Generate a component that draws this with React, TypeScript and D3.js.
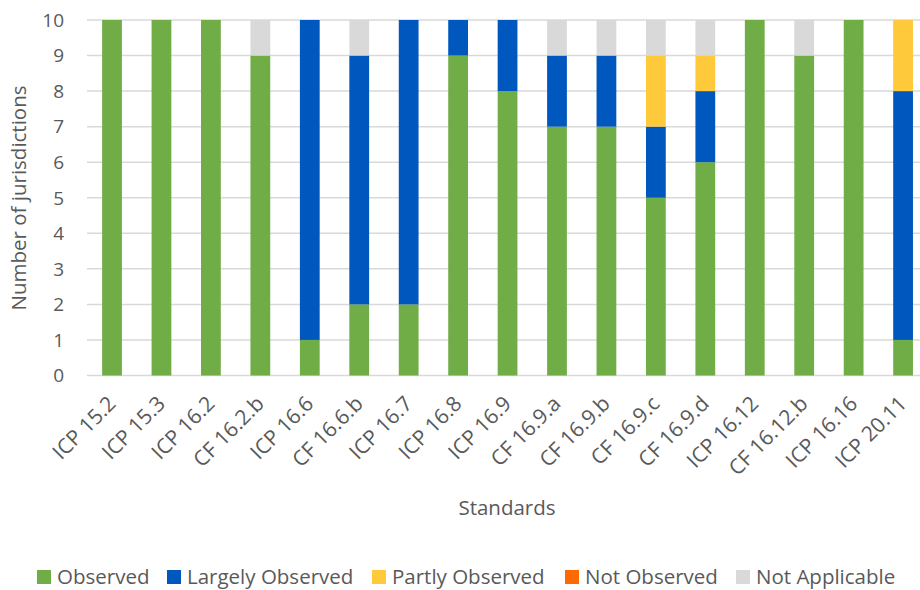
import React from "react";
import * as d3 from "d3";

const categories = ["ICP 15.2","ICP 15.3","ICP 16.2","CF 16.2.b","ICP 16.6","CF 16.6.b","ICP 16.7","ICP 16.8","ICP 16.9","CF 16.9.a","CF 16.9.b","CF 16.9.c","CF 16.9.d","ICP 16.12","CF 16.12.b","ICP 16.16","ICP 20.11"];
const observed =        [10,10,10,9,1,2,2,9,8,7,7,5,6,10,9,10,1];
const largelyObserved = [0,0,0,0,9,7,8,1,2,2,2,2,2,0,0,0,7];
const partlyObserved =  [0,0,0,0,0,0,0,0,0,0,0,2,1,0,0,0,2];
const notObserved =     [0,0,0,0,0,0,0,0,0,0,0,0,0,0,0,0,0];
const notApplicable =   [0,0,0,1,0,1,0,0,0,1,1,1,1,0,1,0,0];
const seriesNames = ["Observed","Largely Observed","Partly Observed","Not Observed","Not Applicable"];
const seriesColors = ["#70AD47","#0058BE","#FFC93C","#FF6A00","#D9D9D9"];
const yTicks = [0,1,2,3,4,5,6,7,8,9,10];

const W = 920, H = 590;
const FONT = "'Open Sans', sans-serif";
const TXT = "#595959";

export default function App() {
  const x = d3.scaleBand<string>().domain(categories).range([87.3, 927.8]).paddingInner(0.6).paddingOuter(0.3);
  const y = d3.scaleLinear().domain([0, 10]).range([375.5, 20]);
  const seriesData = [observed, largelyObserved, partlyObserved, notObserved, notApplicable];
  const table = categories.map((c, i) => {
    const row: any = { cat: c };
    seriesNames.forEach((s, k) => (row[s] = seriesData[k][i]));
    return row;
  });
  const stacked = d3.stack().keys(seriesNames)(table);
  const legendX = [37, 167, 372, 565, 736];

  return (
    <svg width={W} height={H} style={{ position: "absolute", left: 0, top: 0, background: "#fff" }} fontFamily={FONT}>
      <rect width={W} height={H} fill="#fff" />
      {yTicks.map((t) => (
        <g key={t}>
          <line x1={87} x2={920} y1={y(t)} y2={y(t)} stroke="#D9D9D9" strokeWidth={1.5} />
          <text x={64} y={y(t)} dy="0.36em" textAnchor="end" fontSize={19} fill={TXT}>{t}</text>
        </g>
      ))}
      {stacked.map((s, k) => (
        <g key={s.key} fill={seriesColors[k]}>
          {s.map((d, i) => (
            d[1] - d[0] > 0 ? (
              <rect key={i} x={x(categories[i])} width={x.bandwidth()} y={y(d[1])} height={y(d[0]) - y(d[1])} />
            ) : null
          ))}
        </g>
      ))}
      {categories.map((c) => (
        <text key={c} transform={`translate(${(x(c) as number) + x.bandwidth() / 2 + 5},${405}) rotate(-45)`} textAnchor="end" fontSize={21} fill={TXT}>{c}</text>
      ))}
      <text transform={`translate(26,198) rotate(-90)`} textAnchor="middle" fontSize={20.5} fill={TXT}>Number of jurisdictions</text>
      <text x={507} y={515} textAnchor="middle" fontSize={20.5} fill={TXT}>Standards</text>
      {seriesNames.map((s, k) => (
        <g key={s}>
          <rect x={legendX[k]} y={570} width={14} height={14} fill={seriesColors[k]} />
          <text x={legendX[k] + 20} y={584} fontSize={20.5} fill={TXT}>{s}</text>
        </g>
      ))}
    </svg>
  );
}
